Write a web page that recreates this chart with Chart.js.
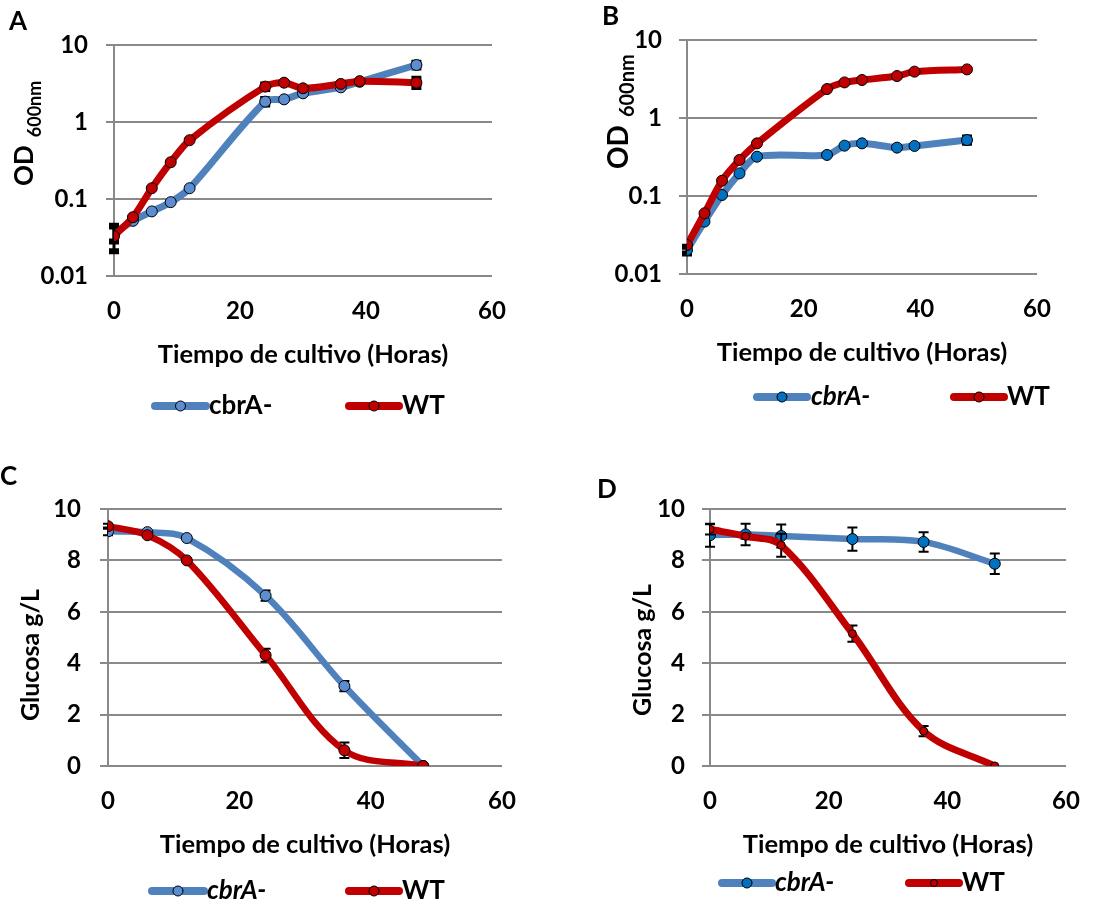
<!DOCTYPE html>
<html>
<head>
<meta charset="utf-8">
<script src="https://cdn.jsdelivr.net/npm/chart.js@4.4.1/dist/chart.umd.min.js"></script>
<style>
  html, body { margin: 0; padding: 0; background: #fff; }
  #fig { position: relative; width: 1117px; height: 903px; overflow: hidden; }
  #fig canvas { position: absolute; }
</style>
</head>
<body>
<div id="fig">
  <canvas id="panelA" width="560" height="450" style="left:0px;top:0px"></canvas>
  <canvas id="panelB" width="557" height="450" style="left:560px;top:0px"></canvas>
  <canvas id="panelC" width="560" height="453" style="left:0px;top:450px"></canvas>
  <canvas id="panelD" width="557" height="453" style="left:560px;top:450px"></canvas>
</div>
<script>
// Sampling times (hours)
const hoursOD = [0, 3, 6, 9, 12, 24, 27, 30, 36, 39, 48];
const hoursGlc = [0, 6, 12, 24, 36, 48];

// Series labels
const seriesMutant = 'cbrA-';
const seriesWT = 'WT';

// Axis tick labels
const xTickValues = [0, 20, 40, 60];
const odTickValues = [0.01, 0.1, 1, 10];
const glcTickValues = [0, 2, 4, 6, 8, 10];

// Panel A: OD600
const odA_mutant = [0.036, 0.052, 0.069, 0.091, 0.138, 1.84, 1.97, 2.36, 2.82, 3.33, 5.5];
const odA_wt     = [0.033, 0.058, 0.138, 0.30, 0.58, 2.88, 3.24, 2.74, 3.12, 3.39, 3.24];
const odA_mutantErr = [0.008, 0, 0, 0, 0, 0.15, 0, 0, 0, 0, 0.4];
const odA_wtErr     = [0.012, 0, 0, 0, 0, 0.2, 0, 0, 0, 0, 0.4];

// Panel B: OD600
const odB_mutant = [0.0203, 0.047, 0.103, 0.195, 0.319, 0.336, 0.442, 0.473, 0.417, 0.438, 0.522];
const odB_wt     = [0.0235, 0.060, 0.157, 0.29, 0.473, 2.35, 2.86, 3.07, 3.45, 3.93, 4.2];
const odB_mutantErr = [0.002, 0, 0, 0, 0, 0, 0, 0, 0, 0, 0.04];
const odB_wtErr     = [0, 0, 0, 0, 0, 0, 0, 0, 0, 0, 0];

// Panel C: glucose (g/L)
const glcC_mutant = [9.13, 9.10, 8.87, 6.63, 3.11, 0];
const glcC_wt     = [9.33, 8.98, 8.00, 4.31, 0.61, 0];
const glcC_mutantErr = [0.15, 0.05, 0.05, 0.2, 0.2, 0];
const glcC_wtErr     = [0.1, 0.05, 0.05, 0.25, 0.3, 0];

// Panel D: glucose (g/L)
const glcD_mutant = [8.98, 9.01, 8.95, 8.83, 8.72, 7.87];
const glcD_wt     = [9.21, 8.94, 8.59, 5.15, 1.36, 0];
const glcD_mutantErr = [0.45, 0.42, 0.45, 0.45, 0.38, 0.4];
const glcD_wtErr     = [0.2, 0.1, 0.45, 0.32, 0.2, 0];

const xTitleText = 'Tiempo de cultivo (Horas)';

const FAMILY = 'Lato, "Open Sans", sans-serif';
const GRID = '#898989';
const BLUE_LINE = '#4f81bd';
const RED = '#c00000';

function points(xs, ys) { return xs.map((x, i) => ({ x: x, y: ys[i] })); }

// Vertical error bars drawn underneath each dataset's line and markers
const errorBars = {
  id: 'errorBars',
  beforeDatasetDraw(chart, args, opts) {
    const ds = chart.data.datasets[args.index];
    if (!ds.errors) return;
    const ctx = chart.ctx, xs = chart.scales.x, ys = chart.scales.y;
    ctx.save();
    ctx.strokeStyle = '#000';
    ds.data.forEach((p, i) => {
      const e = ds.errors[i];
      if (!e) return;
      const px = xs.getPixelForValue(p.x);
      const lo = Math.max(p.y - e, ys.min);
      const yTop = ys.getPixelForValue(p.y + e);
      const yBot = ys.getPixelForValue(lo);
      ctx.lineWidth = opts.width;
      ctx.beginPath();
      ctx.moveTo(px, yTop); ctx.lineTo(px, yBot);
      ctx.stroke();
      ctx.lineWidth = opts.capWidth;
      ctx.beginPath();
      ctx.moveTo(px - opts.cap / 2, yTop); ctx.lineTo(px + opts.cap / 2, yTop);
      ctx.moveTo(px - opts.cap / 2, yBot); ctx.lineTo(px + opts.cap / 2, yBot);
      ctx.stroke();
    });
    ctx.restore();
  }
};

// Panel letter, axis titles and the line-with-marker legend
const panelDecor = {
  id: 'panelDecor',
  afterDraw(chart, args, o) {
    const ctx = chart.ctx, a = chart.chartArea;
    ctx.save();
    ctx.fillStyle = '#000';

    ctx.font = `bold ${o.letter.size}px ${FAMILY}`;
    ctx.textAlign = 'left'; ctx.textBaseline = 'alphabetic';
    ctx.fillText(o.letter.text, o.letter.x, o.letter.y);

    ctx.font = `bold ${o.xTitle.size}px ${FAMILY}`;
    ctx.textAlign = 'center'; ctx.textBaseline = 'middle';
    ctx.fillText(o.xTitle.text, (a.left + a.right) / 2, a.bottom + o.xTitle.dy);

    const yt = o.yTitle;
    ctx.save();
    ctx.translate(yt.x, yt.y);
    ctx.rotate(-Math.PI / 2);
    ctx.textAlign = 'left'; ctx.textBaseline = 'alphabetic';
    ctx.font = `bold ${yt.size}px ${FAMILY}`;
    const w1 = ctx.measureText(yt.text).width;
    let total = w1;
    if (yt.sub) {
      ctx.font = `bold ${yt.subSize}px ${FAMILY}`;
      total += yt.gap + ctx.measureText(yt.sub).width;
    }
    const start = yt.anchor === 'center' ? -total / 2 : 0;
    ctx.font = `bold ${yt.size}px ${FAMILY}`;
    ctx.fillText(yt.text, start, 0);
    if (yt.sub) {
      ctx.font = `bold ${yt.subSize}px ${FAMILY}`;
      ctx.fillText(yt.sub, start + w1 + yt.gap, yt.subShift);
    }
    ctx.restore();

    const lg = o.legend;
    chart.data.datasets.forEach((ds, i) => {
      const it = lg.items[i];
      ctx.strokeStyle = ds.borderColor;
      ctx.lineWidth = lg.lineWidth;
      ctx.lineCap = 'round';
      ctx.beginPath();
      ctx.moveTo(it.x0, lg.y); ctx.lineTo(it.x1, lg.y);
      ctx.stroke();
      ctx.beginPath();
      ctx.arc((it.x0 + it.x1) / 2, lg.y, ds.pointRadius - 0.5, 0, Math.PI * 2);
      ctx.fillStyle = ds.pointBackgroundColor;
      ctx.fill();
      ctx.lineWidth = 1; ctx.strokeStyle = '#000';
      ctx.stroke();
      ctx.fillStyle = '#000';
      ctx.font = `${it.italic ? 'italic ' : ''}bold ${lg.size}px ${FAMILY}`;
      ctx.textAlign = 'left'; ctx.textBaseline = 'middle';
      ctx.fillText(ds.label, it.tx, lg.y);
    });
    ctx.restore();
  }
};

function makePanel(id, cfg) {
  const tickFont = { family: FAMILY, size: 24, weight: 'bold' };
  const yScale = cfg.log ? {
    type: 'logarithmic', min: 0.01, max: 10,
    afterBuildTicks: s => { s.ticks = odTickValues.map(v => ({ value: v })); }
  } : {
    type: 'linear', min: 0, max: 10,
    afterBuildTicks: s => { s.ticks = glcTickValues.map(v => ({ value: v })); }
  };
  Object.assign(yScale, {
    ticks: { color: '#000', font: tickFont, padding: cfg.yTickPad, callback: v => String(v) },
    grid: { color: GRID, lineWidth: 2, tickLength: 8, drawTicks: true },
    border: { display: true, color: GRID, width: 2 },
    afterFit: s => { s.width = cfg.yWidth; }
  });
  const dsets = [
    {
      label: seriesMutant, data: points(cfg.x, cfg.mutant), errors: cfg.mutantErr,
      borderColor: BLUE_LINE, borderWidth: cfg.lw[0], pointRadius: cfg.pr[0],
      pointBackgroundColor: cfg.mutantMarker, pointBorderColor: '#000', pointBorderWidth: 1,
      tension: cfg.tension, order: 1
    },
    {
      label: seriesWT, data: points(cfg.x, cfg.wt), errors: cfg.wtErr,
      borderColor: RED, borderWidth: cfg.lw[1], pointRadius: cfg.pr[1],
      pointBackgroundColor: RED, pointBorderColor: '#000', pointBorderWidth: 1,
      tension: cfg.tension, order: 0
    }
  ];
  return new Chart(document.getElementById(id), {
    type: 'line',
    data: { datasets: dsets },
    options: {
      responsive: false, animation: false, devicePixelRatio: 1, events: [],
      layout: { padding: cfg.padding },
      scales: {
        x: {
          type: 'linear', min: 0, max: 60,
          afterBuildTicks: s => { s.ticks = xTickValues.map(v => ({ value: v })); },
          ticks: { color: '#000', font: tickFont, padding: cfg.xTickPad, maxRotation: 0 },
          grid: { display: false, drawTicks: false },
          border: { display: false },
          afterFit: s => { s.height = cfg.xHeight; }
        },
        y: yScale
      },
      plugins: {
        legend: { display: false },
        tooltip: { enabled: false },
        errorBars: cfg.err,
        panelDecor: cfg.decor
      }
    },
    plugins: [errorBars, panelDecor]
  });
}

makePanel('panelA', {
  log: true, x: hoursOD, mutant: odA_mutant, wt: odA_wt,
  mutantErr: odA_mutantErr, wtErr: odA_wtErr,
  mutantMarker: '#5b8dd0', lw: [7, 7], pr: [5.5, 5.5], tension: 0.3,
  padding: { left: 0, top: 45, right: 68, bottom: 0 }, yWidth: 114, xHeight: 174,
  yTickPad: 18, xTickPad: 21,
  err: { width: 3, cap: 10, capWidth: 6 },
  decor: {
    letter: { text: 'A', x: 9, y: 30, size: 26 },
    xTitle: { text: xTitleText, dy: 79, size: 25.5 },
    yTitle: { text: 'OD', sub: '600nm', x: 33, y: 186, size: 26, subSize: 18, gap: 8, subShift: 8 },
    legend: { y: 406, size: 26, lineWidth: 8, items: [{ x0: 155, x1: 206, tx: 209 }, { x0: 349, x1: 399, tx: 402 }] }
  }
});

makePanel('panelB', {
  log: true, x: hoursOD, mutant: odB_mutant, wt: odB_wt,
  mutantErr: odB_mutantErr, wtErr: odB_wtErr,
  mutantMarker: '#0070c0', lw: [7, 7], pr: [5.5, 5.5], tension: 0.3,
  padding: { left: 0, top: 40, right: 80, bottom: 0 }, yWidth: 127, xHeight: 176,
  yTickPad: 17, xTickPad: 21,
  err: { width: 3, cap: 10, capWidth: 6 },
  decor: {
    letter: { text: 'B', x: 42, y: 25, size: 26 },
    xTitle: { text: xTitleText, dy: 79, size: 25.5 },
    yTitle: { text: 'OD', sub: '600nm', x: 68, y: 169, size: 28, subSize: 20, gap: 8, subShift: 6 },
    legend: { y: 397, size: 26, lineWidth: 8, items: [{ x0: 197, x1: 247, tx: 251, italic: true }, { x0: 394, x1: 444, tx: 447 }] }
  }
});

makePanel('panelC', {
  log: false, x: hoursGlc, mutant: glcC_mutant, wt: glcC_wt,
  mutantErr: glcC_mutantErr, wtErr: glcC_wtErr,
  mutantMarker: '#5b8dd0', lw: [6.5, 6.5], pr: [5.5, 5.5], tension: 0.35,
  padding: { left: 0, top: 59, right: 58, bottom: 0 }, yWidth: 108, xHeight: 137,
  yTickPad: 19, xTickPad: 21,
  err: { width: 2, cap: 10, capWidth: 2 },
  decor: {
    letter: { text: 'C', x: 0, y: 35, size: 26 },
    xTitle: { text: xTitleText, dy: 79, size: 25.5 },
    yTitle: { text: 'Glucosa g/L', x: 39, y: 205, size: 25, anchor: 'center' },
    legend: { y: 441, size: 26, lineWidth: 8, items: [{ x0: 152, x1: 204, tx: 207, italic: true }, { x0: 349, x1: 399, tx: 402 }] }
  }
});

makePanel('panelD', {
  log: false, x: hoursGlc, mutant: glcD_mutant, wt: glcD_wt,
  mutantErr: glcD_mutantErr, wtErr: glcD_wtErr,
  mutantMarker: '#0070c0', lw: [6.5, 7], pr: [5.5, 4], tension: 0.35,
  padding: { left: 0, top: 59, right: 51, bottom: 0 }, yWidth: 150, xHeight: 137,
  yTickPad: 17, xTickPad: 21,
  err: { width: 2, cap: 10, capWidth: 2 },
  decor: {
    letter: { text: 'D', x: 37, y: 48, size: 26 },
    xTitle: { text: xTitleText, dy: 79, size: 25.5 },
    yTitle: { text: 'Glucosa g/L', x: 91, y: 200, size: 25, anchor: 'center' },
    legend: { y: 433, size: 26, lineWidth: 8, items: [{ x0: 162, x1: 212, tx: 215, italic: true }, { x0: 349, x1: 399, tx: 402 }] }
  }
});
</script>
</body>
</html>
